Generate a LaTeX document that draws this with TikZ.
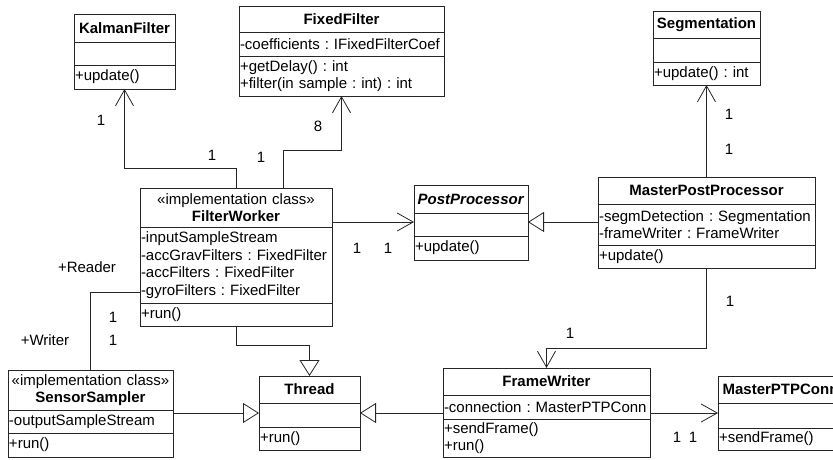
\documentclass[tikz,border=0pt]{standalone}
\usepackage{fontspec}
\setmainfont{Liberation Sans}
\usetikzlibrary{shapes, arrows.meta, positioning, calc}
\frenchspacing
\hyphenpenalty=10000

\begin{document}
\begin{tikzpicture}[x=1pt, y=-1pt, line width=0.8pt, draw=black!85,
    every node/.style={font=\fontsize{15}{17.5}\selectfont},
    head/.style={draw=black!85, outer sep=0pt, inner xsep=1pt, inner ysep=0pt, align=center, anchor=north west},
    part/.style={draw=black!85, outer sep=0pt, inner xsep=1pt, inner ysep=0pt, align=left},
    mult/.style={inner sep=0pt},
    assoc/.style={-{Straight Barb[length=16pt, width=18pt]}},
    inherit/.style={-{Triangle[open, length=16pt, width=20pt, fill=white]}}]
    \clip (0,0) rectangle (833,459);

    % KalmanFilter
    \node[head, text width=99pt, minimum height=28pt] (kfh) at (74,14) {\textbf{KalmanFilter}};
    \node[part, text width=99pt, minimum height=23pt, below=0pt of kfh] (kfa) {};
    \node[part, text width=99pt, minimum height=24pt, below=0pt of kfa] (kfo) {+update()};

    % FixedFilter
    \node[head, text width=203pt, minimum height=26pt] (ffh) at (239,6) {\textbf{FixedFilter}};
    \node[part, text width=203pt, minimum height=24pt, below=0pt of ffh] (ffa) {-coefficients : IFixedFilterCoef};
    \node[part, text width=203pt, minimum height=40pt, below=0pt of ffa] (ffo) {+getDelay() : int\\+filter(in sample : int) : int};

    % Segmentation
    \node[head, text width=105pt, minimum height=27pt] (segh) at (653,11) {\textbf{Segmentation}};
    \node[part, text width=105pt, minimum height=24pt, below=0pt of segh] (sega) {};
    \node[part, text width=105pt, minimum height=23pt, below=0pt of sega] (sego) {+update() : int};

    % FilterWorker
    \node[head, text width=190pt, minimum height=39pt] (fwh) at (140,188) {«implementation class»\\\textbf{FilterWorker}};
    \node[part, text width=190pt, minimum height=76pt, below=0pt of fwh] (fwa) {-inputSampleStream\\-accGravFilters : FixedFilter\\-accFilters : FixedFilter\\-gyroFilters : FixedFilter};
    \node[part, text width=190pt, minimum height=23pt, below=0pt of fwa] (fwo) {+run()};

    % PostProcessor
    \node[head, text width=112pt, minimum height=28pt] (pph) at (414,185) {\textbf{\textit{PostProcessor}}};
    \node[part, text width=112pt, minimum height=23pt, below=0pt of pph] (ppa) {};
    \node[part, text width=112pt, minimum height=24pt, below=0pt of ppa] (ppo) {+update()};

    % MasterPostProcessor
    \node[head, text width=215pt, minimum height=27pt] (mpph) at (598,177) {\textbf{MasterPostProcessor}};
    \node[part, text width=215pt, minimum height=41pt, below=0pt of mpph] (mppa) {-segmDetection : Segmentation\\-frameWriter : FrameWriter};
    \node[part, text width=215pt, minimum height=23pt, below=0pt of mppa] (mppo) {+update()};

    % SensorSampler
    \node[head, text width=163pt, minimum height=40pt] (ssh) at (8,370) {«implementation class»\\\textbf{SensorSampler}};
    \node[part, text width=163pt, minimum height=23pt, below=0pt of ssh] (ssa) {-outputSampleStream};
    \node[part, text width=163pt, minimum height=24pt, below=0pt of ssa] (sso) {+run()};

    % Thread
    \node[head, text width=99pt, minimum height=27pt] (thrh) at (259,376) {\textbf{Thread}};
    \node[part, text width=99pt, minimum height=24pt, below=0pt of thrh] (thra) {};
    \node[part, text width=99pt, minimum height=23pt, below=0pt of thra] (thro) {+run()};

    % FrameWriter
    \node[head, text width=205pt, minimum height=27pt] (frh) at (443,368) {\textbf{FrameWriter}};
    \node[part, text width=205pt, minimum height=24pt, below=0pt of frh] (fra) {-connection : MasterPTPConn};
    \node[part, text width=205pt, minimum height=38pt, below=0pt of fra] (fro) {+sendFrame()\\+run()};

    % MasterPTPConn
    \node[head, text width=123pt, minimum height=27pt] (ptph) at (718,376) {\textbf{MasterPTPConn}};
    \node[part, text width=123pt, minimum height=25pt, below=0pt of ptph] (ptpa) {};
    \node[part, text width=123pt, minimum height=22pt, below=0pt of ptpa] (ptpo) {+sendFrame()};

    % connectors
    \coordinate (ppin) at ([yshift=2.5pt]ppa.west);
    \coordinate (thin) at ([yshift=2pt]thra.west);
    \coordinate (rd) at ([yshift=-27pt]fwa.west);

    \draw[assoc] (fwh.north) -- ++(0,-20) -| (kfo.south);
    \draw[assoc] ([xshift=47pt]fwh.north) -- ++(0,-38) -| (ffo.south);
    \draw[assoc] (mpph.north) -- (sego.south);
    \draw[assoc] (ppin -| fwh.east) -- (ppin);
    \draw[inherit] (ppin -| mppa.west) -- (ppin -| ppa.east);
    \draw[assoc] (mppo.south) -- ++(0,80) -| (frh.north);
    \draw[inherit] (fwo.south) -- ++(0,19) -| (thrh.north);
    \draw[inherit] (thin -| ssa.east) -- (thin);
    \draw[inherit] (thin -| fra.west) -- (thin -| thra.east);
    \draw[assoc] (thin -| fra.east) -- (thin -| ptpa.west);
    \draw (ssh.north) |- (rd);

    % multiplicities and roles
    \node[mult] (m1) at (101,120) {1};
    \node[mult] (m2) at (212,155) {1};
    \node[mult] (m3) at (318,126) {8};
    \node[mult] (m4) at (261,157) {1};
    \node[mult] (m5) at (729,114) {1};
    \node[mult] (m6) at (729,149) {1};
    \node[mult] (m7) at (357,248) {1};
    \node[mult] (m8) at (388,248) {1};
    \node[mult] (m9) at (730,301) {1};
    \node[mult] (m10) at (570,333) {1};
    \node[mult] (reader) at (87,267) {+Reader};
    \node[mult] (m11) at (113,317) {1};
    \node[mult] (writer) at (45,340) {+Writer};
    \node[mult] (m12) at (113,340) {1};
    \node[mult] (m13) at (677,437) {1};
    \node[mult] (m14) at (693,437) {1};
\end{tikzpicture}
\end{document}
